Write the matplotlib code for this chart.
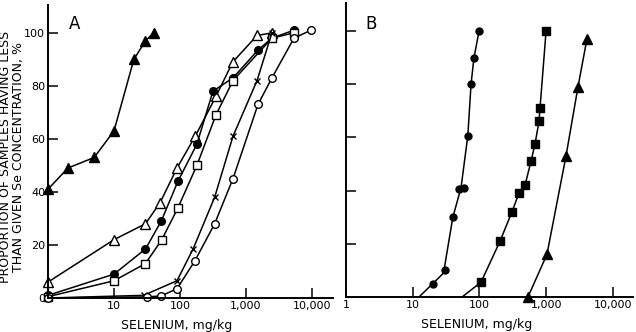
import matplotlib
matplotlib.use("Agg")
import matplotlib.pyplot as plt

plt.rcParams['font.family'] = ['DejaVu Sans']

# panel A, values (x in mg/kg, y in %)
a_tri_x = [1, 2, 5, 10, 20, 30, 40]
a_tri_y = [41, 49, 53, 63, 90, 97, 100]

a_otri_x = [1, 10, 30, 50, 90, 170, 350, 630, 1470, 2470]
a_otri_y = [6, 22, 28, 36, 49, 61, 76, 89, 99, 100]

a_dot_x = [1, 10, 30, 52, 93, 180, 316, 635, 1520, 2470, 5330]
a_dot_y = [1, 9, 18.5, 29, 44, 58, 78, 83, 93.5, 98, 101]

a_sq_x = [1, 10, 30, 53, 93, 180, 350, 635, 2470, 5330]
a_sq_y = [0.5, 6.5, 13, 22, 34, 50, 69, 82, 98, 100]

a_x_x = [1, 28, 90, 158, 335, 635, 1470, 2470]
a_x_y = [0, 1, 6.5, 18.5, 38, 61, 82, 100]

a_circ_x = [1, 32, 52, 90, 168, 335, 635, 1520, 2470, 5330, 9660]
a_circ_y = [0, 0.4, 0.8, 3.5, 14, 28, 45, 73, 83, 98, 101]

# panel B
b_dot_x = [20, 31, 40, 49, 58, 67, 75, 83, 99]
b_dot_y = [5, 10, 30, 40.5, 41, 60.5, 80, 90, 100]
b_dot_line_x = [12.4, 20, 29, 40, 53, 67, 75, 83, 99]
b_dot_line_y = [0, 5, 9, 30, 41, 60.5, 80, 90, 100]

b_sq_x = [106, 204, 308, 392, 483, 594, 682, 783, 811, 1000]
b_sq_y = [5.6, 21, 32, 39, 42, 51, 57.5, 66, 71, 100]
b_sq_line_x = [55] + b_sq_x
b_sq_line_y = [0] + b_sq_y

b_tri_x = [535, 1030, 1990, 3010, 4100]
b_tri_y = [0, 16, 53, 79, 97]

a_ticks = [10, 100, 1000, 10000]
a_labels = ['10', '100', '1,000', '10,000']
b_ticks = [1, 10, 100, 1000, 10000]
b_labels = ['1', '10', '100', '1,000', '10,000']
y_ticks = [0, 20, 40, 60, 80, 100]

fig = plt.figure(figsize=(6.36, 3.32), dpi=100)
axA = fig.add_axes([48 / 636, 34 / 332, 285 / 636, 293 / 332])
axB = fig.add_axes([346 / 636, 35 / 332, 287 / 636, 294 / 332])

lw = 1.1
kw = dict(color='k', lw=lw, clip_on=False)

# panel A curves
axA.plot(a_tri_x, a_tri_y, marker='^', ms=7, mfc='k', mec='k', **kw)
axA.plot(a_otri_x, a_otri_y, marker='^', ms=6.5, mfc='w', mec='k', **kw)
axA.plot(a_dot_x, a_dot_y, marker='o', ms=5.5, mfc='k', mec='k', **kw)
axA.plot(a_sq_x, a_sq_y, marker='s', ms=5.5, mfc='w', mec='k', **kw)
axA.plot(a_x_x, a_x_y, marker='x', ms=4.5, mec='k', mew=1, **kw)
axA.plot(a_circ_x, a_circ_y, marker='o', ms=5.5, mfc='w', mec='k', **kw)

# panel B curves
axB.plot(b_dot_line_x, b_dot_line_y, **kw)
axB.plot(b_dot_x, b_dot_y, ls='none', marker='o', ms=5, mfc='k', mec='k', clip_on=False)
axB.plot(b_sq_line_x, b_sq_line_y, **kw)
axB.plot(b_sq_x, b_sq_y, ls='none', marker='s', ms=5.5, mfc='k', mec='k', clip_on=False)
axB.plot(b_tri_x, b_tri_y, marker='^', ms=6.5, mfc='k', mec='k', **kw)

for ax, xmax, ticks, labels in [(axA, 20800, a_ticks, a_labels),
                                (axB, 20100, b_ticks, b_labels)]:
    ax.set_xscale('log')
    ax.set_xlim(1, xmax)
    ax.set_ylim(0, 110.5)
    ax.set_xticks(ticks)
    ax.set_xticklabels(labels)
    ax.minorticks_off()
    ax.set_yticks(y_ticks)
    for s in ['top', 'right']:
        ax.spines[s].set_visible(False)
    for s in ['left', 'bottom']:
        ax.spines[s].set_linewidth(1.4)
    ax.tick_params(direction='in', length=7, width=1.1, pad=2)
    ax.tick_params(axis='x', labelsize=8)
    ax.tick_params(axis='y', labelsize=8, pad=2)
    ax.set_xlabel('SELENIUM, mg/kg', fontsize=9, labelpad=1)

axB.set_yticklabels([])
axA.xaxis.set_label_coords(0.45, -0.07)
axB.xaxis.set_label_coords(0.456, -0.07)

fig.text(75 / 636, 1 - 24 / 332, 'A', fontsize=12, ha='center', va='center')
fig.text(371 / 636, 1 - 24 / 332, 'B', fontsize=12, ha='center', va='center')

fig.text(12.5 / 636, 0.527,
         'PROPORTION OF SAMPLES HAVING LESS\nTHAN GIVEN Se CONCENTRATION, %',
         rotation=90, ha='center', va='center', fontsize=9, linespacing=1.0,
         multialignment='center')

fig.savefig('out.png', dpi=100)
